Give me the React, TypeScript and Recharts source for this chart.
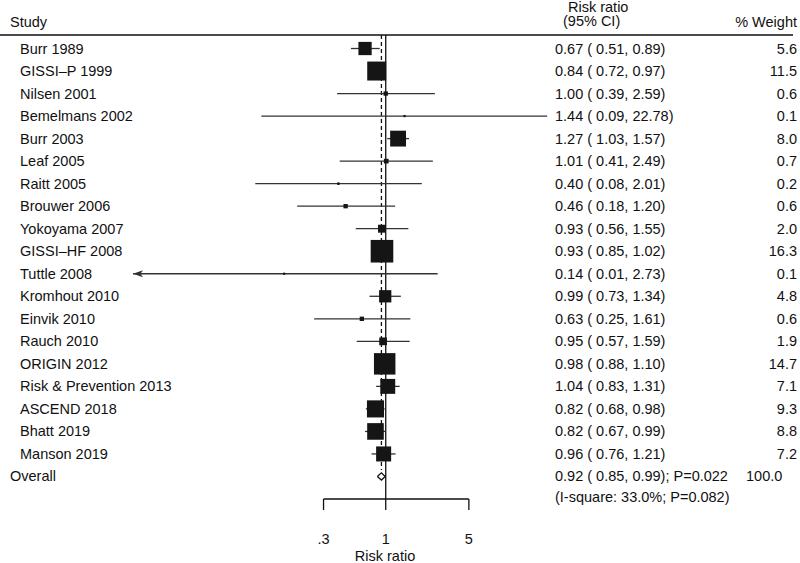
import React from 'react';
import { ComposedChart, XAxis, YAxis, Scatter, ReferenceLine, Customized } from 'recharts';

// ---- data ----
const studies = [
  'Burr 1989', 'GISSI–P 1999', 'Nilsen 2001', 'Bemelmans 2002', 'Burr 2003', 'Leaf 2005',
  'Raitt 2005', 'Brouwer 2006', 'Yokoyama 2007', 'GISSI–HF 2008', 'Tuttle 2008', 'Kromhout 2010',
  'Einvik 2010', 'Rauch 2010', 'ORIGIN 2012', 'Risk & Prevention 2013', 'ASCEND 2018', 'Bhatt 2019',
  'Manson 2019',
];
const riskRatio = [0.67, 0.84, 1.0, 1.44, 1.27, 1.01, 0.4, 0.46, 0.93, 0.93, 0.14, 0.99, 0.63, 0.95, 0.98, 1.04, 0.82, 0.82, 0.96];
const ciLow = [0.51, 0.72, 0.39, 0.09, 1.03, 0.41, 0.08, 0.18, 0.56, 0.85, 0.006, 0.73, 0.25, 0.57, 0.88, 0.83, 0.68, 0.67, 0.76];
const ciHigh = [0.89, 0.97, 2.59, 22.78, 1.57, 2.49, 2.01, 1.2, 1.55, 1.02, 2.73, 1.34, 1.61, 1.59, 1.1, 1.31, 0.98, 0.99, 1.21];
const weights = [5.6, 11.5, 0.6, 0.1, 8.0, 0.7, 0.2, 0.6, 2.0, 16.3, 0.1, 4.8, 0.6, 1.9, 14.7, 7.1, 9.3, 8.8, 7.2];

const overallRR = 0.92;
const overallLow = 0.85;
const overallHigh = 0.99;
const overallP = '0.022';
const overallWeight = 100.0;
const iSquare = '33.0%';
const heterogeneityP = '0.082';

const xTicks = [0.3, 1, 5];

// ---- layout ----
const W = 800;
const H = 563;
const X_MIN = 0.0075;
const X_MAX = 25;
const Y_MIN = 0.4;
const Y_MAX = 21.0;
const FONT = '"Liberation Sans", Arial, Helvetica, sans-serif';
const FS = 14.5;
const TXT = '#111';
const LINE = '#333';

const overallRow = studies.length + 1;
const rows = studies.map((name, i) => ({
  y: i + 1,
  x: riskRatio[i],
  name,
  low: ciLow[i],
  high: ciHigh[i],
  weight: weights[i],
}));
const labelPts = [
  ...rows.map((r) => ({ x: 1, y: r.y, idx: r.y - 1 })),
  { x: 1, y: overallRow, idx: studies.length },
];
const arrowPts = rows.filter((r) => r.low < X_MIN).map((r) => ({ x: X_MIN, y: r.y }));
const dH = 0.16;
const diamondPts = [
  { x: overallLow, y: overallRow },
  { x: overallRR, y: overallRow - dH },
  { x: overallHigh, y: overallRow },
  { x: overallRR, y: overallRow + dH },
  { x: overallLow, y: overallRow },
];

const fmtCI = (rr: number, lo: number, hi: number) =>
  `${rr.toFixed(2)} ( ${lo.toFixed(2)}, ${hi.toFixed(2)})`;

const BoxShape = (props: any) => {
  const { cx, cy, payload } = props;
  const s = Math.max(2.2, 5.6 * Math.sqrt(payload.weight));
  return <rect x={cx - s / 2} y={cy - s / 2} width={s} height={s} fill="#151515" />;
};

const ArrowShape = (props: any) => {
  const { cx, cy } = props;
  return (
    <polygon
      points={`${cx},${cy} ${cx + 10},${cy - 3.5} ${cx + 7.5},${cy} ${cx + 10},${cy + 3.5}`}
      fill={LINE}
    />
  );
};

const NoShape = () => <g />;

const RowLabel = (props: any) => {
  const { cy, payload } = props;
  const i = payload.idx;
  const base = cy + 5;
  if (i < studies.length) {
    return (
      <g fontFamily={FONT} fontSize={FS} fill={TXT}>
        <text x={20} y={base}>{studies[i]}</text>
        <text x={555} y={base}>{fmtCI(riskRatio[i], ciLow[i], ciHigh[i])}</text>
        <text x={797} y={base} textAnchor="end">{weights[i].toFixed(1)}</text>
      </g>
    );
  }
  return (
    <g fontFamily={FONT} fontSize={FS} fill={TXT}>
      <text x={10} y={base}>Overall</text>
      <text x={555} y={base}>{`${fmtCI(overallRR, overallLow, overallHigh)}; P=${overallP}`}</text>
      <text x={746} y={base}>{overallWeight.toFixed(1)}</text>
      <text x={555} y={base + 21}>{`(I-square: ${iSquare}; P=${heterogeneityP})`}</text>
    </g>
  );
};

const Header = () => (
  <g fontFamily={FONT} fontSize={FS} fill={TXT}>
    <text x={10} y={26.5}>Study</text>
    <text x={568} y={12}>Risk ratio</text>
    <text x={563} y={26}>(95% CI)</text>
    <text x={797} y={26.5} textAnchor="end">% Weight</text>
    <line x1={0} x2={793} y1={35} y2={35} stroke={TXT} strokeWidth={1.3} />
    <text x={385} y={561} textAnchor="middle">Risk ratio</text>
  </g>
);

const fmtTick = (v: number) => (v < 1 ? String(v).replace(/^0/, '') : String(v));

export default function App() {
  return (
    <div style={{ position: 'absolute', left: 0, top: 0, width: W, height: H, background: '#fff' }}>
      <ComposedChart width={W} height={H} margin={{ top: 35, right: 248, bottom: 4, left: 132 }}>
        <XAxis
          type="number"
          dataKey="x"
          scale="log"
          domain={[X_MIN, X_MAX]}
          ticks={xTicks}
          interval={0}
          tickFormatter={fmtTick}
          axisLine={false}
          tickLine={{ stroke: TXT, strokeWidth: 1.3 }}
          tickSize={11}
          tickMargin={24}
          height={60}
          tick={{ fill: TXT, fontSize: FS, fontFamily: FONT }}
        />
        <YAxis
          type="number"
          dataKey="y"
          reversed
          domain={[Y_MIN, Y_MAX]}
          width={1}
          axisLine={false}
          tickLine={false}
          tick={false}
        />
        <Customized component={Header} />
        <ReferenceLine
          segment={[{ x: xTicks[0], y: Y_MAX }, { x: xTicks[xTicks.length - 1], y: Y_MAX }]}
          stroke={TXT}
          strokeWidth={1.3}
          ifOverflow="visible"
        />
        <ReferenceLine x={1} stroke={TXT} strokeWidth={1.3} />
        <ReferenceLine
          segment={[{ x: overallRR, y: Y_MIN }, { x: overallRR, y: overallRow - 0.29 }]}
          stroke={TXT}
          strokeWidth={1.3}
          strokeDasharray="4 3"
          ifOverflow="visible"
        />
        {rows.map((r) => (
          <ReferenceLine
            key={r.name}
            segment={[{ x: r.low, y: r.y }, { x: r.high, y: r.y }]}
            stroke={LINE}
            strokeWidth={1.3}
            ifOverflow="hidden"
          />
        ))}
        <Scatter data={rows} shape={BoxShape} isAnimationActive={false} />
        <Scatter data={arrowPts} shape={ArrowShape} isAnimationActive={false} />
        <Scatter
          data={diamondPts}
          shape={NoShape}
          line={{ stroke: TXT, strokeWidth: 1.3 }}
          lineType="joint"
          isAnimationActive={false}
        />
        <Scatter data={labelPts} shape={RowLabel} isAnimationActive={false} />
      </ComposedChart>
    </div>
  );
}
